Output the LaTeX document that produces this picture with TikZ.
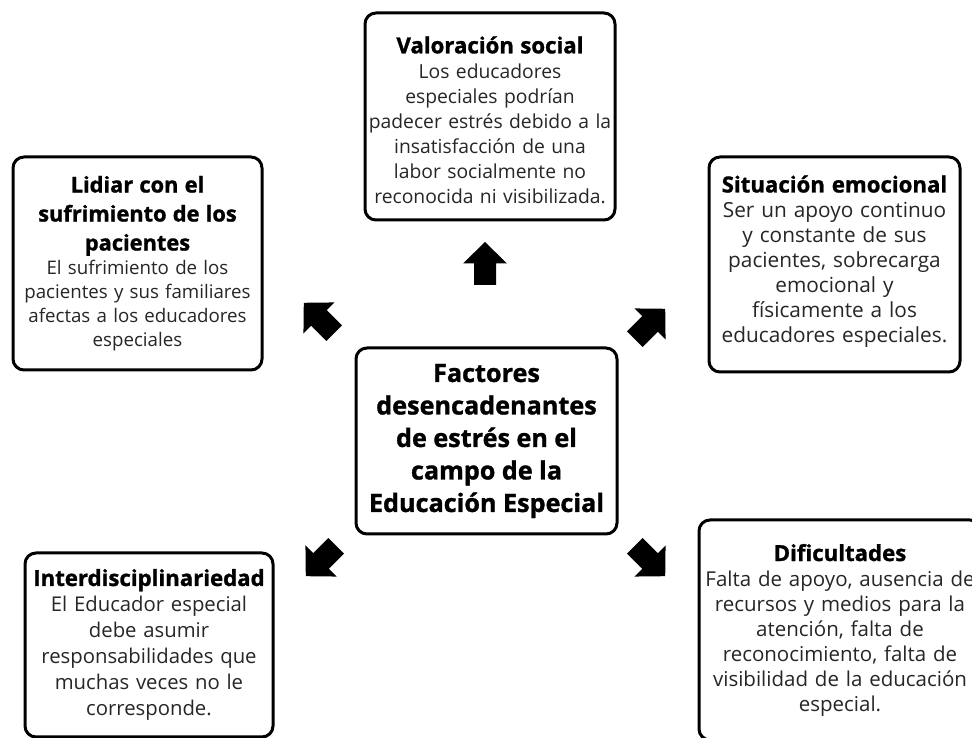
\documentclass[tikz,border=0pt]{standalone}
\usepackage{fontspec}
\setmainfont{Open Sans}[BoldFeatures={FakeBold=1.2}]
\newcommand\cuerpo[2]{\fontsize{#1}{#2}\selectfont}
\newcommand\titulo{\color{black}\fontsize{22.2}{25}\selectfont\bfseries}
\newcommand\titulogrande{\color{black}\fontsize{21.8}{29}\selectfont\bfseries}
\newcommand\tituloprincipal{\color{black}\fontsize{25.2}{32.5}\selectfont\bfseries}
\tikzset{
  caja/.style={draw, line width=3pt, rounded corners=11pt, inner sep=0pt},
  texto/.style={align=center, text width=330pt, font={\cuerpo{19.3}{25}}, text=black!85, inner sep=0pt},
  pics/flecha/.style={code={
    \fill (0,21.5) -- (22,0) -- (11,0) -- (11,-21.5) -- (-11,-21.5) -- (-11,0) -- (-22,0) -- cycle;}}
}

\begin{document}
\begin{tikzpicture}[x=1pt,y=1pt]
  \clip (0,0) rectangle (972,738);
  \fill[white] (0,0) rectangle (972,738);
  %cajas
  \node[caja, minimum width=250pt, minimum height=207pt] (valoracion) at (490,621.5) {};
  \node[caja, minimum width=249pt, minimum height=213pt] (lidiar) at (137.5,474.5) {};
  \node[caja, minimum width=251pt, minimum height=215pt] (emocional) at (834.5,473.5) {};
  \node[caja, minimum width=261pt, minimum height=186pt] (centro) at (486.5,297) {};
  \node[caja, minimum width=248pt, minimum height=184pt] (interdis) at (149,93) {};
  \node[caja, minimum width=282pt, minimum height=220pt] (dificultades) at (840,108) {};
  %textos
  \node[texto, yshift=-3.5pt] (valoracion-t) at (valoracion) {{\titulo Valoración social\par}
    Los educadores\\ especiales podrían\\ padecer estrés debido a la\\ insatisfacción de una\\
    labor socialmente no\\ reconocida ni visibilizada.};
  \node[texto, font={\cuerpo{18.7}{24}}] (lidiar-t) at (lidiar) {{\titulogrande Lidiar con el\\ sufrimiento de los\\ pacientes\par}
    El sufrimiento de los\\ pacientes y sus familiares\\ afectas a los educadores\\ especiales};
  \node[texto, yshift=3pt, font={\cuerpo{20.8}{25}}] (emocional-t) at (emocional) {{\titulo Situación emocional\par}
    Ser un apoyo continuo\\ y constante de sus\\ pacientes, sobrecarga\\ emocional y\\
    físicamente a los\\ educadores especiales.};
  \node[texto] (centro-t) at (centro) {{\tituloprincipal Factores\\ desencadenantes\\ de estrés en el\\
    campo de la\\ Educación Especial\par}};
  \node[texto, font={\cuerpo{20.3}{26}}] (interdis-t) at (interdis) {{\titulo Interdisciplinariedad\par}
    El Educador especial\\ debe asumir\\ responsabilidades que\\ muchas veces no le\\ corresponde.};
  \node[texto, font={\cuerpo{20.5}{25}}] (dificultades-t) at (dificultades) {{\titulo Dificultades\par}
    Falta de apoyo, ausencia de\\ recursos y medios para la\\ atención, falta de\\
    reconocimiento, falta de\\ visibilidad de la educación\\ especial.};
  %flechas
  \pic at (485,474.5) {flecha};
  \pic[rotate=45] at (319,420) {flecha};
  \pic[rotate=-45] at (650,414) {flecha};
  \pic[rotate=135] at (321,177) {flecha};
  \pic[rotate=-135] at (650,177) {flecha};
\end{tikzpicture}
\end{document}
